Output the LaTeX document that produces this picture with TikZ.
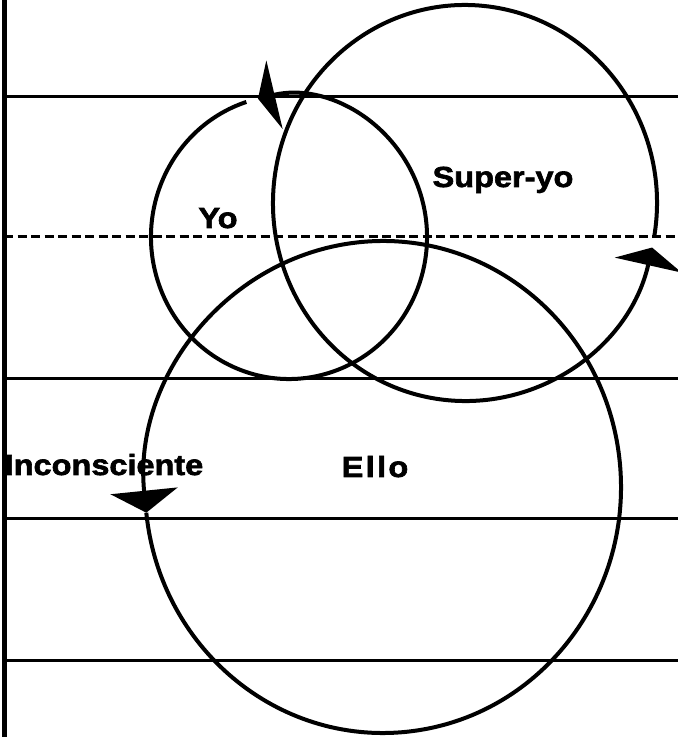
\documentclass[tikz,border=0pt]{standalone}
\usepackage{fontspec}
\setmainfont{Liberation Sans}[FakeStretch=1.12, BoldFeatures={FakeBold=2.2}]
\usetikzlibrary{arrows.meta}
\definecolor{psInk}{HTML}{000000}
\tikzset{
  margin/.style={line width=5pt, draw=psInk},
  level/.style={line width=3pt, draw=psInk},
  preconsc/.style={level, dash pattern=on 9pt off 4.5pt},
  ring/.style={line width=4pt, draw=psInk},
  ringtip/.style 2 args={ring, -{Triangle[width=#1, length=#2]}},
  lbl/.style={font=\fontsize{29}{34}\selectfont\bfseries, text=psInk,
    inner sep=0pt, anchor=base},
}

\begin{document}
\begin{tikzpicture}[x=1pt, y=1pt]
  \useasboundingbox (0,0) rectangle (678,737);
  \draw[margin] (4,0) -- (4,737);
  \draw[level] (4,640) -- (678,640);
  \draw[preconsc] (4,500) -- (678,500);
  \draw[level] (4,358) -- (678,358);
  \draw[level] (4,218) -- (678,218);
  \draw[level] (4,76) -- (678,76);

  \draw[ringtip={70pt}{17pt}] (289,500) ++(108:138 and 142)
    arc[start angle=108, end angle=463, x radius=138, y radius=142];
  \draw[ringtip={68pt}{18pt}] (465,534) ++(-10:192 and 198)
    arc[start angle=-10, end angle=347, x radius=192, y radius=198];
  \draw[ringtip={67pt}{22pt}] (383,250) ++(186:238 and 246)
    arc[start angle=186, end angle=546, x radius=238, y radius=246];

  \node[lbl] (yo) at (218,509) {Yo};
  \node[lbl] (superyo) at (503,550) {Super-yo};
  \node[lbl] (ello) at (375,260) {\addfontfeature{LetterSpace=8}Ello};
  \node[lbl] (incons) at (104,262) {Inconsciente};
\end{tikzpicture}
\end{document}
